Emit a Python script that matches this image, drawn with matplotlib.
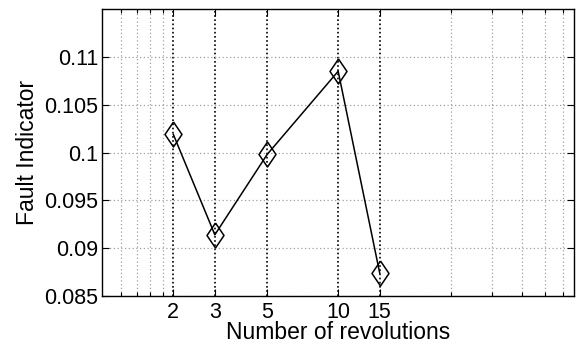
import matplotlib
matplotlib.use("Agg")
import matplotlib.pyplot as plt
import numpy as np
from matplotlib.ticker import FixedLocator, NullFormatter

plt.rcParams['font.family'] = ['Liberation Sans', 'DejaVu Sans']

# fault indicator vs number of revolutions
revolutions = [2, 3, 5, 10, 15]
fault_indicator = [0.1019, 0.0914, 0.0998, 0.1085, 0.0874]

x_ticks = [2, 3, 5, 10, 15]
x_minor = [1.2, 1.4, 1.6, 1.8, 30, 45, 60, 75, 90]
y_ticks = [0.085, 0.09, 0.095, 0.1, 0.105, 0.11]
y_ticklabels = ['0.085', '0.09', '0.095', '0.1', '0.105', '0.11']

fig = plt.figure(figsize=(5.76, 3.48), dpi=100)
ax = fig.add_axes([0.1776, 0.1494, 0.819, 0.8246])

diamond = [(0, 0.5), (0.34, 0), (0, -0.5), (-0.34, 0), (0, 0.5)]
ax.semilogx(revolutions, fault_indicator, color='black', lw=1.1,
            marker=diamond, ms=18, mfc='none', mec='black', mew=1.1)

ax.set_xlim(1, 100)
ax.set_ylim(0.085, 0.115)

ax.xaxis.set_major_locator(FixedLocator(x_ticks))
ax.set_xticklabels([str(v) for v in x_ticks])
ax.xaxis.set_minor_locator(FixedLocator(x_minor))
ax.xaxis.set_minor_formatter(NullFormatter())
ax.set_yticks(y_ticks)
ax.set_yticklabels(y_ticklabels)

# grid: dark dotted at the labelled x ticks, light dotted elsewhere
ax.grid(True, which='major', axis='x', color='black', linestyle=(0, (1, 1.5)), lw=1.2)
ax.grid(True, which='minor', axis='x', color='#a0a0a0', linestyle=(0, (1, 2)), lw=0.9)
ax.grid(True, which='major', axis='y', color='#a0a0a0', linestyle=(0, (1, 2)), lw=0.9)

ax.tick_params(which='both', direction='in', top=True, right=True,
               labelsize=15.5, width=0.8, pad=3)
ax.tick_params(which='major', length=5)
ax.tick_params(which='minor', length=3)
ax.tick_params(axis='x', pad=4)
for s in ax.spines.values():
    s.set_linewidth(1.0)

ax.set_xlabel('Number of revolutions', fontsize=16.5, labelpad=-1)
ax.set_ylabel('Fault Indicator', fontsize=16.5, labelpad=4)

fig.savefig('out.png', dpi=100)
